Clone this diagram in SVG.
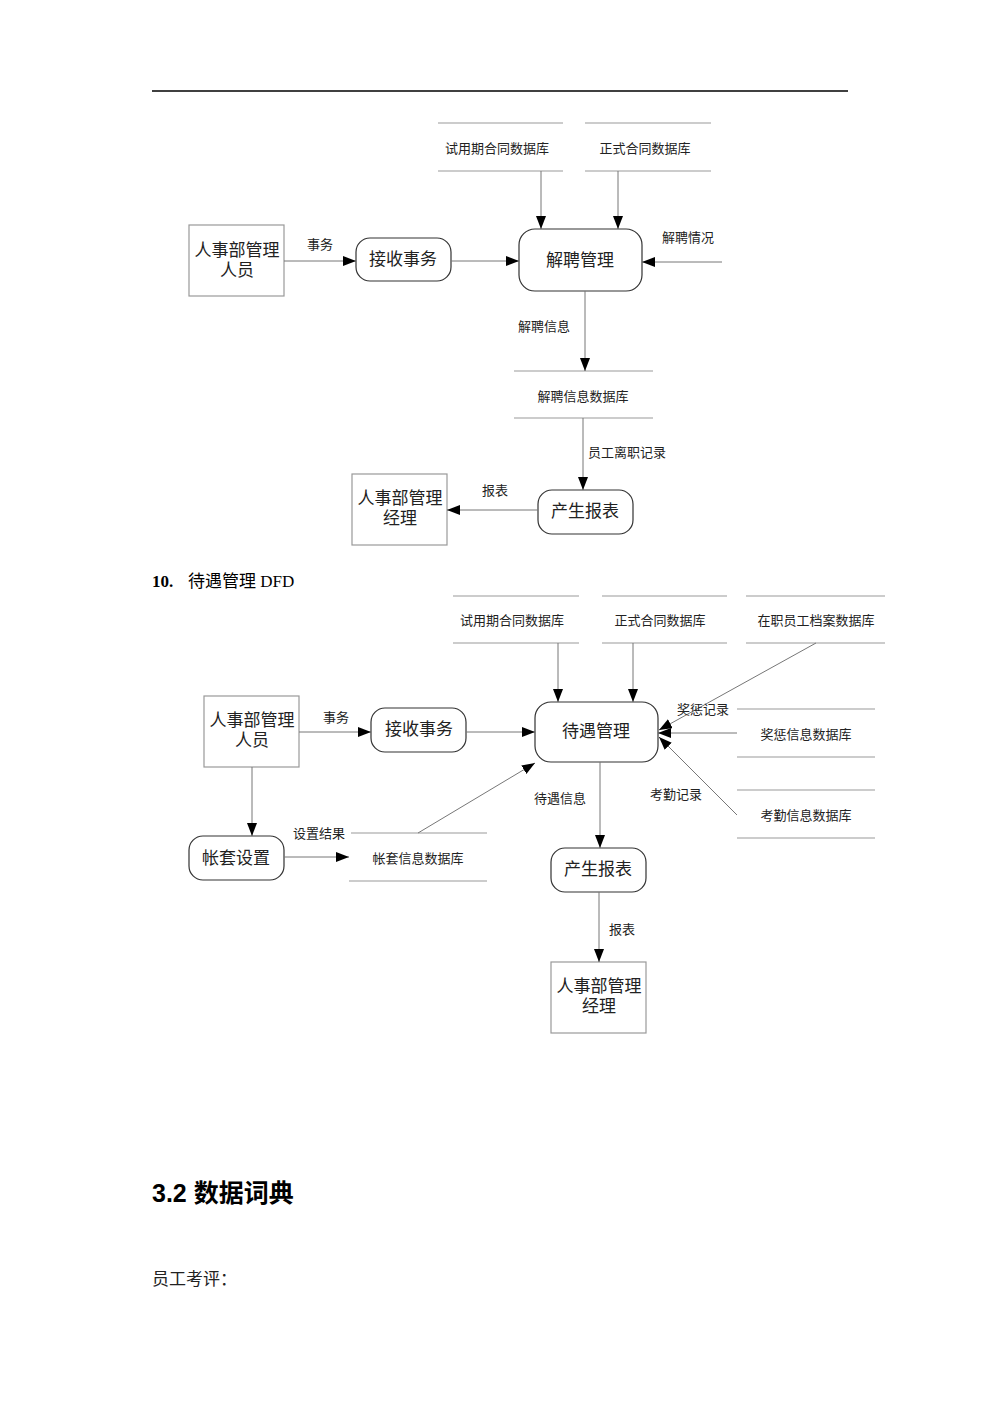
<svg xmlns="http://www.w3.org/2000/svg" width="1000" height="1415" viewBox="0 0 1000 1415">
<defs>
<marker id="ah" markerUnits="userSpaceOnUse" markerWidth="14" markerHeight="12" refX="13" refY="5" orient="auto">
<path d="M0,0 L13,5 L0,10 z" fill="#000"/>
</marker>
<style>
.t{font-family:"Liberation Serif","Noto Sans CJK SC",serif;fill:#222;text-anchor:middle}
.s{font-size:13px}
.m{font-size:17px}
.box{fill:#fff;stroke:#999;stroke-width:1.2}
.proc{fill:#fff;stroke:#333;stroke-width:1.2}
.st{stroke:#999;stroke-width:1}
.ar{stroke:#777;stroke-width:1;fill:none;marker-end:url(#ah)}
</style>
</defs>
<rect width="1000" height="1415" fill="#fff"/>
<line x1="152" y1="91" x2="848" y2="91" stroke="#000" stroke-width="1.5"/>

<!-- Diagram 1 -->
<g id="d1-store-trial"><line class="st" x1="438" y1="123" x2="563" y2="123"/><line class="st" x1="438" y1="171" x2="563" y2="171"/><text class="t s" x="497" y="153">试用期合同数据库</text></g>
<g id="d1-store-formal"><line class="st" x1="585" y1="123" x2="711" y2="123"/><line class="st" x1="585" y1="171" x2="711" y2="171"/><text class="t s" x="645" y="153">正式合同数据库</text></g>
<g id="d1-staff"><rect class="box" x="189" y="225" width="95" height="71"/><text class="t m" x="237" y="256">人事部管理</text><text class="t m" x="237" y="276">人员</text></g>
<g id="d1-receive"><rect class="proc" x="356" y="238" width="95" height="43" rx="14"/><text class="t m" x="403" y="265">接收事务</text></g>
<g id="d1-dismiss"><rect class="proc" x="519" y="229" width="123" height="62" rx="16"/><text class="t m" x="580" y="266">解聘管理</text></g>
<g id="d1-store-dismiss"><line class="st" x1="514" y1="371" x2="653" y2="371"/><line class="st" x1="514" y1="418" x2="653" y2="418"/><text class="t s" x="583" y="401">解聘信息数据库</text></g>
<g id="d1-report"><rect class="proc" x="538" y="490" width="95" height="44" rx="14"/><text class="t m" x="585" y="517">产生报表</text></g>
<g id="d1-manager"><rect class="box" x="352" y="474" width="95" height="71"/><text class="t m" x="400" y="504">人事部管理</text><text class="t m" x="400" y="524">经理</text></g>

<g id="d1-connectors">
<line class="ar" x1="541" y1="171" x2="541" y2="229"/>
<line class="ar" x1="618" y1="171" x2="618" y2="229"/>
<line class="ar" x1="284" y1="261" x2="356" y2="261"/>
<line class="ar" x1="451" y1="261" x2="519" y2="261"/>
<line class="ar" x1="722" y1="262" x2="642" y2="262"/>
<line class="ar" x1="585" y1="291" x2="585" y2="371"/>
<line class="ar" x1="583" y1="418" x2="583" y2="490"/>
<line class="ar" x1="538" y1="510" x2="447" y2="510"/>
<text class="t s" x="320" y="249">事务</text>
<text class="t s" x="688" y="242">解聘情况</text>
<text class="t s" x="544" y="331">解聘信息</text>
<text class="t s" x="627" y="457">员工离职记录</text>
<text class="t s" x="495" y="495">报表</text>
</g>

<text x="152" y="587" style="font-family:'Liberation Serif','Noto Sans CJK SC',serif;font-size:17px;fill:#000"><tspan font-weight="bold">10.</tspan><tspan x="188">待遇管理 DFD</tspan></text>

<!-- Diagram 2 -->
<g id="d2-store-trial"><line class="st" x1="453" y1="596" x2="579" y2="596"/><line class="st" x1="453" y1="643" x2="579" y2="643"/><text class="t s" x="512" y="625">试用期合同数据库</text></g>
<g id="d2-store-formal"><line class="st" x1="602" y1="596" x2="727" y2="596"/><line class="st" x1="602" y1="643" x2="727" y2="643"/><text class="t s" x="660" y="625">正式合同数据库</text></g>
<g id="d2-store-archive"><line class="st" x1="746" y1="596" x2="885" y2="596"/><line class="st" x1="746" y1="643" x2="885" y2="643"/><text class="t s" x="816" y="625">在职员工档案数据库</text></g>
<g id="d2-staff"><rect class="box" x="204" y="696" width="95" height="71"/><text class="t m" x="252" y="726">人事部管理</text><text class="t m" x="252" y="746">人员</text></g>
<g id="d2-receive"><rect class="proc" x="371" y="708" width="95" height="44" rx="14"/><text class="t m" x="419" y="735">接收事务</text></g>
<g id="d2-salary"><rect class="proc" x="535" y="702" width="123" height="60" rx="16"/><text class="t m" x="596" y="737">待遇管理</text></g>
<g id="d2-store-reward"><line class="st" x1="737" y1="709" x2="875" y2="709"/><line class="st" x1="737" y1="757" x2="875" y2="757"/><text class="t s" x="806" y="739">奖惩信息数据库</text></g>
<g id="d2-store-attend"><line class="st" x1="737" y1="790" x2="875" y2="790"/><line class="st" x1="737" y1="838" x2="875" y2="838"/><text class="t s" x="806" y="820">考勤信息数据库</text></g>
<g id="d2-account"><rect class="proc" x="189" y="836" width="95" height="44" rx="14"/><text class="t m" x="236" y="864">帐套设置</text></g>
<g id="d2-store-account"><line class="st" x1="351" y1="833" x2="487" y2="833"/><line class="st" x1="349" y1="881" x2="487" y2="881"/><text class="t s" x="418" y="863">帐套信息数据库</text></g>
<g id="d2-report"><rect class="proc" x="551" y="848" width="95" height="44" rx="14"/><text class="t m" x="598" y="875">产生报表</text></g>
<g id="d2-manager"><rect class="box" x="551" y="962" width="95" height="71"/><text class="t m" x="599" y="992">人事部管理</text><text class="t m" x="599" y="1012">经理</text></g>

<g id="d2-connectors">
<line class="ar" x1="558" y1="643" x2="558" y2="702"/>
<line class="ar" x1="633" y1="643" x2="633" y2="702"/>
<line class="ar" x1="299" y1="732" x2="371" y2="732"/>
<line class="ar" x1="466" y1="732" x2="535" y2="732"/>
<line class="ar" x1="816" y1="643" x2="659" y2="730"/>
<line class="ar" x1="737" y1="733" x2="658" y2="733"/>
<line class="ar" x1="737" y1="815" x2="659" y2="737"/>
<line class="ar" x1="600" y1="762" x2="600" y2="848"/>
<line class="ar" x1="599" y1="892" x2="599" y2="962"/>
<line class="ar" x1="252" y1="767" x2="252" y2="836"/>
<line class="ar" x1="284" y1="857" x2="349" y2="857"/>
<line class="ar" x1="418" y1="833" x2="535" y2="763"/>
<text class="t s" x="336" y="722">事务</text>
<text class="t s" x="703" y="714">奖惩记录</text>
<text class="t s" x="676" y="799">考勤记录</text>
<text class="t s" x="560" y="803">待遇信息</text>
<text class="t s" x="319" y="838">设置结果</text>
<text class="t s" x="622" y="934">报表</text>
</g>

<text x="152" y="1202" style="font-family:'Liberation Sans','Noto Sans CJK SC',sans-serif;font-size:25px;font-weight:bold;fill:#000">3.2 数据词典</text>
<text x="152" y="1285" style="font-family:'Liberation Serif','Noto Sans CJK SC',serif;font-size:17px;fill:#222">员工考评：</text>
</svg>
